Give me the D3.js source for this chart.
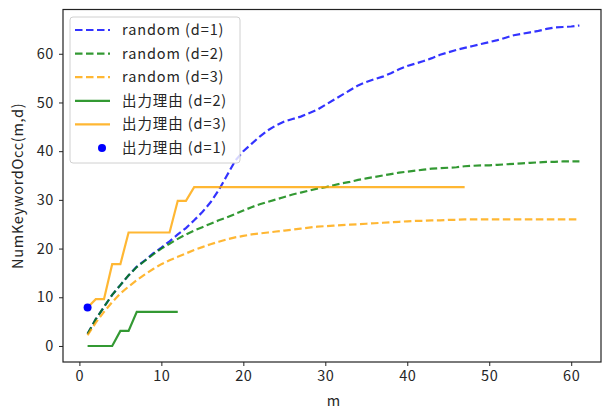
<!DOCTYPE html>
<html>
<head>
<meta charset="utf-8">
<script src="https://cdn.jsdelivr.net/npm/d3@7"></script>
<style>
  body { margin: 0; background: #fff; }
  text { font-family: "Noto Sans CJK JP", "Noto Sans", sans-serif; fill: #262626; }
</style>
</head>
<body>
<div id="chart"></div>
<script>
// data
var mRandom = d3.range(1, 62);
var randomD1 = [2.5, 5.5, 8, 10.5, 12.5, 14.5, 16.3, 17.6, 19, 20.2,
  21.5, 22.9, 24.2, 25.8, 27.5, 29.5, 32, 35, 38, 40,
  41.5, 43, 44.3, 45.3, 46.1, 46.6, 47.1, 47.8, 48.5, 49.5,
  50.5, 51.5, 52.5, 53.5, 54.2, 54.8, 55.3, 56, 56.8, 57.5,
  58, 58.5, 59.1, 59.8, 60.3, 60.8, 61.2, 61.6, 62, 62.4,
  62.8, 63.3, 63.8, 64.1, 64.4, 64.7, 65.1, 65.4, 65.5, 65.6, 65.8];
var randomD2 = [2.5, 5.5, 8, 10.5, 12.5, 14.5, 16.2, 17.5, 18.8, 20,
  21, 22, 22.9, 23.7, 24.4, 25.1, 25.8, 26.4, 27.1, 27.8,
  28.5, 29.1, 29.6, 30.1, 30.6, 31.1, 31.5, 31.9, 32.3, 32.6,
  33, 33.4, 33.7, 34.1, 34.4, 34.7, 35, 35.3, 35.6, 35.8,
  36, 36.2, 36.4, 36.5, 36.6, 36.7, 36.9, 37, 37.1, 37.1,
  37.2, 37.3, 37.4, 37.5, 37.6, 37.7, 37.8, 37.8, 37.9, 37.9, 37.9];
var randomD3 = [2.2, 4.8, 7, 9, 10.8, 12.2, 13.5, 14.7, 15.8, 16.8,
  17.6, 18.3, 19, 19.7, 20.3, 20.9, 21.4, 21.9, 22.3, 22.6,
  22.9, 23.1, 23.3, 23.5, 23.7, 23.9, 24.1, 24.3, 24.5, 24.6,
  24.7, 24.8, 24.9, 25, 25.1, 25.2, 25.3, 25.4, 25.5, 25.6,
  25.7, 25.7, 25.8, 25.8, 25.9, 25.9, 26, 26, 26, 26,
  26, 26, 26, 26, 26, 26, 26, 26, 26, 26, 26];

var mReasonD2 = d3.range(1, 13);
var reasonD2 = [0, 0, 0, 0, 3.1, 3.1, 7, 7, 7, 7, 7, 7];

var mReasonD3 = d3.range(1, 48);
var reasonD3 = [7.9, 9.6, 9.6, 16.8, 16.8, 23.3, 23.3, 23.3, 23.3, 23.3,
  23.3, 29.8, 29.8, 32.6, 32.6, 32.6, 32.6, 32.6, 32.6, 32.6,
  32.6, 32.6, 32.6, 32.6, 32.6, 32.6, 32.6, 32.6, 32.6, 32.6,
  32.6, 32.6, 32.6, 32.6, 32.6, 32.6, 32.6, 32.6, 32.6, 32.6,
  32.6, 32.6, 32.6, 32.6, 32.6, 32.6, 32.6];

var mReasonD1 = [1];
var reasonD1 = [7.9];

var xTicks = [0, 10, 20, 30, 40, 50, 60];
var yTicks = [0, 10, 20, 30, 40, 50, 60];

// set the dimensions and margins of the graph
var width = 602, height = 410;
var margin = {top: 9.5, right: 1, bottom: 48, left: 63};
var innerW = width - margin.left - margin.right;
var innerH = height - margin.top - margin.bottom;

var svg = d3.select("#chart")
  .append("svg")
  .attr("width", width)
  .attr("height", height);

var g = svg.append("g")
  .attr("transform", "translate(" + margin.left + "," + margin.top + ")");

var x = d3.scaleLinear().domain([-2, 64]).range([0, 541]);
var y = d3.scaleLinear().domain([-3.29, 69.09]).range([innerH, 0]);

// axes
var xAxis = g.append("g")
  .attr("transform", "translate(0," + innerH + ")")
  .call(d3.axisBottom(x).tickValues(xTicks).tickSize(4).tickPadding(5));
var yAxis = g.append("g")
  .call(d3.axisLeft(y).tickValues(yTicks).tickSize(4).tickPadding(5));
[xAxis, yAxis].forEach(function(a) {
  a.select(".domain").remove();
  a.selectAll("line").attr("stroke", "#222").attr("stroke-width", 1);
  a.selectAll("text").style("font-size", "14.5px").style("letter-spacing", "0.6px").attr("fill", "#333");
});

// frame
g.append("rect")
  .attr("width", innerW).attr("height", innerH)
  .attr("fill", "none").attr("stroke", "#222").attr("stroke-width", 1.2);

var plot = g.append("g");
var line = d3.line()
  .x(function(d) { return x(d[0]); })
  .y(function(d) { return y(d[1]); });

function zip(ms, vs) { return ms.map(function(m, i) { return [m, vs[i]]; }); }

var series = [
  {name: "random (d=1)", ms: mRandom, vs: randomD1, color: "blue", dash: "7.5,3.5"},
  {name: "random (d=2)", ms: mRandom, vs: randomD2, color: "green", dash: "7.5,3.5"},
  {name: "random (d=3)", ms: mRandom, vs: randomD3, color: "orange", dash: "7.5,3.5"},
  {name: "出力理由 (d=2)", ms: mReasonD2, vs: reasonD2, color: "green", dash: null},
  {name: "出力理由 (d=3)", ms: mReasonD3, vs: reasonD3, color: "orange", dash: null}
];

series.forEach(function(s) {
  plot.append("path")
    .datum(zip(s.ms, s.vs))
    .attr("d", line)
    .attr("fill", "none")
    .attr("stroke", s.color)
    .attr("stroke-opacity", 0.8)
    .attr("stroke-width", 2.2)
    .attr("stroke-dasharray", s.dash);
});

plot.selectAll("circle.dot")
  .data(zip(mReasonD1, reasonD1))
  .enter()
  .append("circle")
    .attr("class", "dot")
    .attr("cx", function(d) { return x(d[0]); })
    .attr("cy", function(d) { return y(d[1]); })
    .attr("r", 4)
    .attr("fill", "blue");

// axis labels
svg.append("text")
  .attr("x", margin.left + 541 / 2)
  .attr("y", 406)
  .attr("text-anchor", "middle")
  .style("font-size", "14.5px")
  .text("m");
svg.append("text")
  .attr("transform", "translate(23," + (margin.top + innerH / 2) + ") rotate(-90)")
  .attr("text-anchor", "middle")
  .style("font-size", "14.5px")
  .style("letter-spacing", "0.7px")
  .text("NumKeywordOcc(m,d)");

// legend
var legendItems = series.concat([{name: "出力理由 (d=1)", color: "blue", dot: true}]);
var legend = svg.append("g").attr("transform", "translate(70,17)");
legend.append("rect")
  .attr("width", 170).attr("height", 146)
  .attr("rx", 3)
  .attr("fill", "#fff").attr("fill-opacity", 0.8)
  .attr("stroke", "#d0d0d0");
var rowH = 23.6;
var items = legend.selectAll("g.item")
  .data(legendItems)
  .enter()
  .append("g")
    .attr("class", "item")
    .attr("transform", function(d, i) { return "translate(0," + (13 + i * rowH) + ")"; });
items.each(function(d) {
  var it = d3.select(this);
  if (d.dot) {
    it.append("circle").attr("cx", 32).attr("cy", 0).attr("r", 4).attr("fill", d.color);
  } else {
    it.append("line")
      .attr("x1", 5).attr("x2", 40)
      .attr("stroke", d.color).attr("stroke-opacity", 0.8)
      .attr("stroke-width", 2.2)
      .attr("stroke-dasharray", d.dash);
  }
});
items.append("text")
  .attr("x", 52)
  .attr("dy", "0.35em")
  .style("font-size", "14.5px")
  .style("letter-spacing", "0.9px")
  .text(function(d) { return d.name; });
</script>
</body>
</html>
